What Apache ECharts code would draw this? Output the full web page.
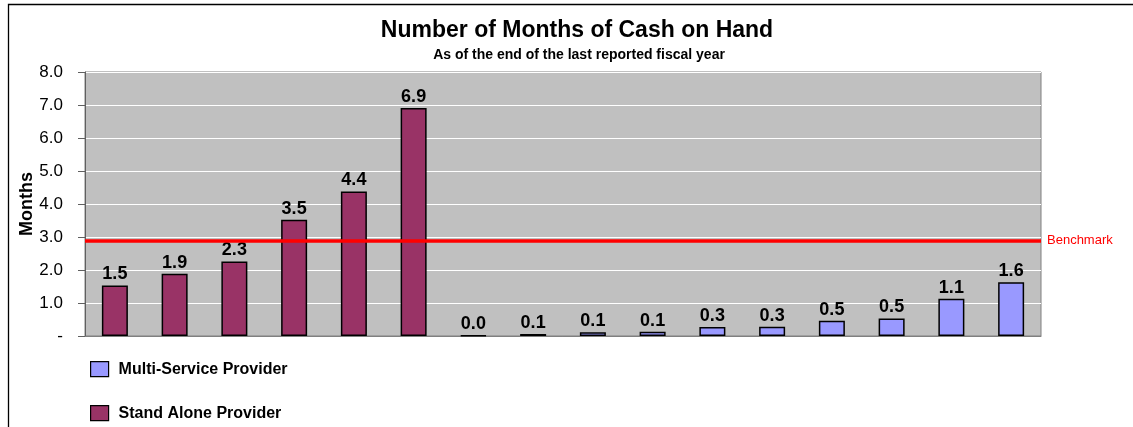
<!DOCTYPE html>
<html>
<head>
<meta charset="utf-8">
<script src="https://cdn.jsdelivr.net/npm/echarts@6/dist/echarts.min.js"></script>
<style>
html,body{margin:0;padding:0;background:#fff;}
#chart{width:1133px;height:427px;}
</style>
</head>
<body>
<div id="chart"></div>
<script>
var categories = ['SA1','SA2','SA3','SA4','SA5','SA6','MS1','MS2','MS3','MS4','MS5','MS6','MS7','MS8','MS9','MS10'];
var standAlone = [1.53, 1.89, 2.26, 3.52, 4.38, 6.91, null, null, null, null, null, null, null, null, null, null];
var multiService = [null, null, null, null, null, null, 0.02, 0.06, 0.11, 0.13, 0.27, 0.28, 0.46, 0.53, 1.13, 1.63];
var benchmark = 2.9;
var yTicks = {min: 0, max: 8, interval: 1};

var chart = echarts.init(document.getElementById('chart'), null, {renderer: 'canvas'});
var FONT = '"Liberation Sans", Arial, sans-serif';
var labelCfg = {
  show: true, position: 'top', distance: 2,
  fontFamily: FONT, fontWeight: 'bold', fontSize: 18, color: '#000',
  formatter: function (p) { return p.value == null ? '' : Number(p.value).toFixed(1); }
};
var legendBase = {
  orient: 'horizontal', left: 90, padding: 0, itemWidth: 18, itemHeight: 15, icon: 'rect',
  itemStyle: {borderColor: '#000', borderWidth: 1.2},
  textStyle: {fontFamily: FONT, fontWeight: 'bold', fontSize: 16, color: '#000', padding: [0, 0, 0, 5]}
};
chart.setOption({
  animation: false,
  textStyle: {fontFamily: FONT},
  graphic: [{
    type: 'rect', silent: true, z: -10,
    shape: {x: 8.5, y: 4.5, width: 1300, height: 600},
    style: {fill: 'none', stroke: '#000', lineWidth: 1.3}
  }],
  title: [{
    text: 'Number of Months of Cash on Hand',
    left: 572, top: 14, textAlign: 'center',
    textStyle: {fontFamily: FONT, fontWeight: 'bold', fontSize: 23, color: '#000'}
  }, {
    text: 'As of the end of the last reported fiscal year',
    left: 574, top: 43, textAlign: 'center',
    textStyle: {fontFamily: FONT, fontWeight: 'bold', fontSize: 14, color: '#000'}
  }],
  legend: [
    Object.assign({}, legendBase, {top: 361, data: ['Multi-Service Provider']}),
    Object.assign({}, legendBase, {top: 405, data: ['Stand Alone Provider']})
  ],
  grid: {
    left: 85, right: 92, top: 72, bottom: 91,
    show: true, backgroundColor: '#C0C0C0', borderColor: '#808080', borderWidth: 1
  },
  xAxis: {
    type: 'category', data: categories,
    axisLine: {show: true, lineStyle: {color: '#808080'}},
    axisTick: {show: false}, axisLabel: {show: false}, splitLine: {show: false}
  },
  yAxis: {
    type: 'value', min: yTicks.min, max: yTicks.max, interval: yTicks.interval,
    name: 'Months', nameLocation: 'middle', nameGap: 49, nameRotate: 90, nameMoveOverlap: false,
    nameTextStyle: {fontFamily: FONT, fontWeight: 'bold', fontSize: 18, color: '#000'},
    axisLine: {show: true, lineStyle: {color: '#606060'}},
    axisTick: {show: true, length: 7, lineStyle: {color: '#606060'}},
    axisLabel: {
      margin: 22, fontFamily: FONT, fontSize: 17, color: '#000',
      formatter: function (v) { return v === 0 ? '-' : v.toFixed(1); }
    },
    splitLine: {show: true, lineStyle: {color: '#FFFFFF', width: 1}}
  },
  series: [{
    name: 'Multi-Service Provider', type: 'bar', data: multiService,
    barWidth: 26, barGap: '-100%',
    itemStyle: {color: '#9999FF', borderColor: '#000', borderWidth: 1.5},
    label: labelCfg
  }, {
    name: 'Stand Alone Provider', type: 'bar', data: standAlone,
    barWidth: 26, barGap: '-100%',
    itemStyle: {color: '#993366', borderColor: '#000', borderWidth: 1.5},
    label: labelCfg,
    markLine: {
      silent: true, symbol: 'none',
      lineStyle: {color: '#FF0000', width: 3.5, type: 'solid'},
      label: {show: true, position: 'end', distance: 6, formatter: 'Benchmark', color: '#FF0000', fontFamily: FONT, fontSize: 13},
      data: [{yAxis: benchmark}]
    }
  }]
});
</script>
</body>
</html>
